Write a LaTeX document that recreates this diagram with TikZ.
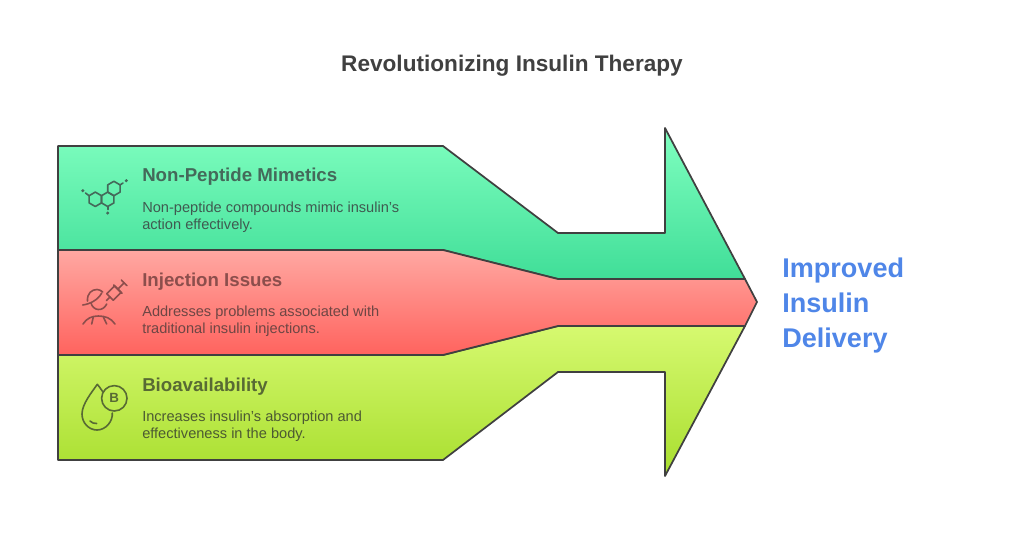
\documentclass[tikz,border=0pt]{standalone}
\usepackage{fontspec}
\setmainfont{Liberation Sans}
\definecolor{greentop}{HTML}{80FFC0}
\definecolor{greenbot}{HTML}{40DE98}
\definecolor{redtop}{HTML}{FFA8A2}
\definecolor{redbot}{HTML}{FF635E}
\definecolor{limetop}{HTML}{D6F970}
\definecolor{limebot}{HTML}{A8DE2E}
\definecolor{outline}{HTML}{404040}
\definecolor{bluelabel}{HTML}{4F86E8}
\definecolor{greenhead}{HTML}{44695A}
\definecolor{redhead}{HTML}{8C4E4C}
\definecolor{limehead}{HTML}{586A34}
\definecolor{greenbody}{HTML}{3F5A50}
\definecolor{redbody}{HTML}{6E4644}
\definecolor{limebody}{HTML}{4C5A32}
\tikzset{
  band/.style={draw=outline,line width=1.3pt,line join=round},
  headlabel/.style={anchor=base west,inner sep=0pt,font=\fontsize{14}{16}\selectfont\bfseries},
  bodylabel/.style={anchor=base west,inner sep=0pt,font=\fontsize{10.95}{12}\selectfont},
  biglabel/.style={anchor=base west,inner sep=0pt,text=bluelabel,font=\fontsize{20.3}{24}\selectfont\bfseries},
  glyph/.style={line width=1.2pt,line cap=round,line join=round}
}
\begin{document}
\begin{tikzpicture}[x=0.75pt,y=-0.75pt]
\useasboundingbox (0,0) rectangle (1024,546);

\draw[band,top color=greentop,bottom color=greenbot]
  (58,146)--(443,146)--(558,233)--(665,233)--(665,128)--(745,279)--(558,279)--(443,250)--(58,250)--cycle ;
\draw[band,top color=limetop,bottom color=limebot]
  (58,355)--(443,355)--(558,326)--(745,326)--(665,476)--(665,372)--(558,372)--(443,460)--(58,460)--cycle ;
\draw[band,top color=redtop,bottom color=redbot]
  (58,250)--(443,250)--(558,279)--(745,279)--(757,302)--(745,326)--(558,326)--(443,355)--(58,355)--cycle ;

\node[anchor=base,text=outline,font=\fontsize{16.95}{20}\selectfont\bfseries] (title) at (512,71.5) {Revolutionizing Insulin Therapy};

\node[headlabel,text=greenhead] (mimeticshead) at (142,181) {Non-Peptide Mimetics};
\node[bodylabel,text=greenbody] (mimeticsone) at (142,212) {Non-peptide compounds mimic insulin's};
\node[bodylabel,text=greenbody] (mimeticstwo) at (142,229) {action effectively.};

\node[headlabel,text=redhead] (injectionhead) at (142,286) {Injection Issues};
\node[bodylabel,text=redbody] (injectionone) at (142,316) {Addresses problems associated with};
\node[bodylabel,text=redbody] (injectiontwo) at (142,333) {traditional insulin injections.};

\node[headlabel,text=limehead] (bioavailhead) at (142,391) {Bioavailability};
\node[bodylabel,text=limebody] (bioavailone) at (142,421) {Increases insulin's absorption and};
\node[bodylabel,text=limebody] (bioavailtwo) at (142,438) {effectiveness in the body.};

\node[biglabel] (improved) at (782,277) {Improved};
\node[biglabel] (insulin) at (782,312) {Insulin};
\node[biglabel] (delivery) at (782,347) {Delivery};

% molecule
\foreach \cx/\cy in {95.3/199.3,107.7/199.3,113.9/188.5}{
  \draw[glyph,draw=greenhead] (\cx+6.2,\cy-3.6)--(\cx+6.2,\cy+3.6)--(\cx,\cy+7.2)--(\cx-6.2,\cy+3.6)--(\cx-6.2,\cy-3.6)--(\cx,\cy-7.2)--cycle ;
}
\draw[glyph,draw=greenhead] (89.1,195.7)--(85.5,193) ;
\draw[glyph,draw=greenhead] (120.1,184.9)--(123,183) ;
\draw[glyph,draw=greenhead] (107.7,206.5)--(107.7,209.5) ;
\fill[greenhead] (82.8,190.7) circle (1.7) (126.3,180.7) circle (1.7) (107.7,213) circle (1.7) ;

% syringe and patient
\draw[glyph,draw=redhead] (87.5,301) .. controls (87,293) and (92,289.5) .. (97,289.5) .. controls (99,289.5) and (101,290.5) .. (102.7,292) ;
\draw[glyph,draw=redhead] (82.7,305) .. controls (90,304) and (98,300) .. (101.7,293) ;
\draw[glyph,draw=redhead] (91,303) .. controls (93,311) and (103,312) .. (106.7,304) ;
\draw[glyph,draw=redhead] (83,324) .. controls (87,318) and (92,316) .. (98.3,316) .. controls (105,316) and (111,318) .. (115,324) ;
\draw[glyph,draw=redhead] (93.3,317)--(91.7,324) ;
\draw[glyph,draw=redhead] (103.3,317)--(106.7,324) ;
\begin{scope}[shift={(106.5,300.5)},rotate=45]
\draw[glyph,draw=redhead] (5,-4.6)--(16,-4.6)--(16,4.6)--(5,4.6)--cycle ;
\draw[glyph,draw=redhead] (0,0)--(5,0) ;
\draw[glyph,draw=redhead] (16,-6)--(16,6) ;
\draw[glyph,draw=redhead] (16,0)--(25,0) ;
\draw[glyph,draw=redhead] (25,-4)--(25,4) ;
\end{scope}

% drop
\draw[glyph,draw=limehead] (102.7,391.7) .. controls (100.5,388.5) and (99,386) .. (97.3,384.3)
  .. controls (92,392) and (82,404) .. (82,414) .. controls (82,423) and (89,430) .. (97,430)
  .. controls (106,430) and (113,421) .. (112.3,413) ;
\draw[glyph,draw=limehead] (90,421) .. controls (92,423) and (94,423.5) .. (96.7,423.5) ;
\draw[glyph,draw=limehead] (114.3,398.3) circle (12.7) ;
\node[text=limehead,font=\fontsize{10}{12}\selectfont\bfseries] (vitamin) at (114.3,398.3) {B};
\end{tikzpicture}
\end{document}
